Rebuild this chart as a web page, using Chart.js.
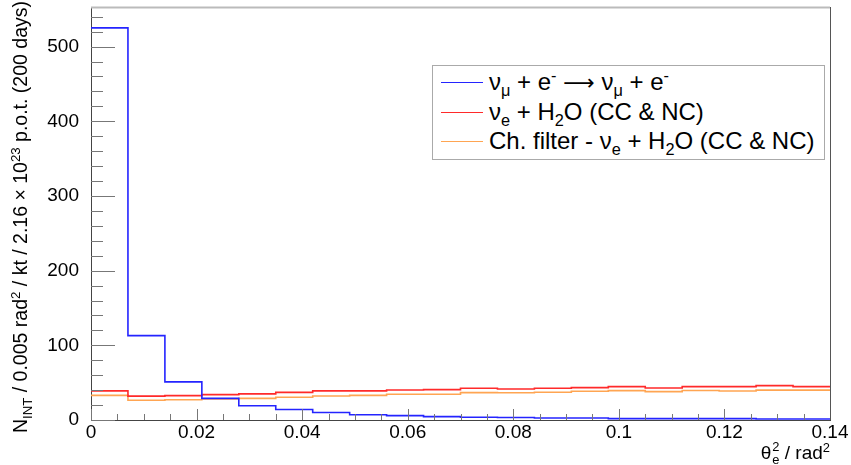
<!DOCTYPE html>
<html>
<head>
<meta charset="utf-8">
<script src="https://cdn.jsdelivr.net/npm/chart.js@4/dist/chart.umd.min.js"></script>
<style>
  html, body { margin:0; padding:0; background:#fff; }
  #wrap { position:relative; width:851px; height:465px; font-family:"Liberation Sans", Arial, sans-serif; color:#000; }
  canvas { position:absolute; left:0; top:0; }
  .ov { position:absolute; white-space:nowrap; }
  sub, sup { font-size:68%; line-height:0; }
  #ytitle { left:0; top:0; width:434px; height:26px; line-height:26px; text-align:right; font-size:19.5px;
            transform-origin:0 0; transform:translate(7px,435px) rotate(-90deg); }
  #legend { left:432px; top:65px; width:391px; height:93px; border:1px solid #aaa; background:#fff; }
  .row { position:absolute; left:0; height:30px; width:100%; }
  .sample { position:absolute; left:8px; width:42px; top:15px; height:0; border-top:1.5px solid; }
  .ltxt { position:absolute; left:56px; top:1px; font-size:24px; line-height:28px; }
  .arr { font-family:"DejaVu Sans", sans-serif; font-size:22px; line-height:0; }
  #xtitle { right:21px; top:441px; font-size:19px; line-height:24px; }
  .stack { display:inline-flex; flex-direction:column; vertical-align:middle; font-size:68%; line-height:1; margin-left:1px; }
</style>
</head>
<body>
<div id="wrap">
  <canvas id="c" width="851" height="465"></canvas>
  <div id="ytitle" class="ov">N<sub>INT</sub> / 0.005 rad<sup>2</sup> / kt / 2.16 × 10<sup>23</sup> p.o.t. (200 days)</div>
  <div id="legend" class="ov"></div>
  <div id="xtitle" class="ov">θ<span class="stack"><span>2</span><span>e</span></span> / rad<sup>2</sup></div>
</div>
<script>
// ---- data ----
const binLow = [0, 0.007, 0.014, 0.021, 0.028, 0.035, 0.042, 0.049, 0.056, 0.063,
                0.07, 0.077, 0.084, 0.091, 0.098, 0.105, 0.112, 0.119, 0.126, 0.133];
const xMax = 0.14;
const numuE   = [525, 113, 51, 29, 19, 14, 10, 7, 5.8, 4.5, 3.6, 3.3, 2.7, 2.7, 1.8, 1.8, 1.8, 1.8, 1.3, 1.3];
const nueH2O  = [39, 32, 32.6, 34, 35, 37, 39, 39, 40.2, 40.7, 42.5, 41.6, 42.5, 43.4, 44.7, 42.9, 44.7, 44.7, 46, 44.7];
const chFilter= [33, 26.4, 27.2, 28.2, 29, 30.4, 32.2, 33, 34.4, 34.4, 36.6, 36.4, 37.1, 38.4, 39.3, 38, 39.5, 38.9, 40, 40];
const seriesNames = [
  'ν<sub>μ</sub> + e<sup>-</sup> <span class="arr">⟶</span> ν<sub>μ</sub> + e<sup>-</sup>',
  'ν<sub>e</sub> + H<sub>2</sub>O (CC &amp; NC)',
  'Ch. filter - ν<sub>e</sub> + H<sub>2</sub>O (CC &amp; NC)'
];
const seriesColors = ['#2424ff', '#ff2a2a', '#ffa552'];
const xTickStep = 0.02, xMinorStep = 0.005;
const yMax = 553, yTickStep = 100, yMinorStep = 20;

function histPoints(vals) {
  const pts = binLow.map((x, i) => ({ x: x, y: vals[i] }));
  pts.push({ x: xMax, y: vals[vals.length - 1] });
  return pts;
}

const seriesVals = [numuE, nueH2O, chFilter];
const datasets = seriesVals.map((v, i) => ({
  label: seriesNames[i].replace(/<[^>]+>/g, ''),
  data: histPoints(v),
  borderColor: seriesColors[i],
  borderWidth: 1.6,
  pointRadius: 0,
  stepped: 'before',
  fill: false,
  tension: 0,
  order: i
}));

// legend (HTML, rich text)
const leg = document.getElementById('legend');
const rowTops = [1, 31, 60];
seriesNames.forEach((n, i) => {
  const r = document.createElement('div');
  r.className = 'row';
  r.style.top = rowTops[i] + 'px';
  r.innerHTML = '<div class="sample" style="border-color:' + seriesColors[i] + '"></div><div class="ltxt">' + n + '</div>';
  leg.appendChild(r);
});

const tickPlugin = {
  id: 'rootTicks',
  afterDraw(chart) {
    const ctx = chart.ctx, a = chart.chartArea;
    const xs = chart.scales.x, ys = chart.scales.y;
    ctx.save();
    ctx.lineWidth = 1;
    ctx.strokeStyle = '#777';
    for (let k = 0; k * xMinorStep <= xMax + 1e-9; k++) {
      const v = k * xMinorStep;
      const px = Math.round(xs.getPixelForValue(v)) + 0.5;
      const major = (k % 4 === 0);
      ctx.beginPath();
      ctx.moveTo(px, a.bottom);
      ctx.lineTo(px, a.bottom - (major ? 11 : 6));
      ctx.stroke();
    }
    for (let k = 0; k * yMinorStep <= yMax; k++) {
      const v = k * yMinorStep;
      const py = Math.round(ys.getPixelForValue(v)) + 0.5;
      const major = (k % 5 === 0);
      ctx.beginPath();
      ctx.moveTo(a.left, py);
      ctx.lineTo(a.left + (major ? 24 : 12), py);
      ctx.stroke();
    }
    ctx.strokeStyle = '#bbb';
    ctx.lineWidth = 2;
    ctx.beginPath();
    ctx.moveTo(a.left, a.top + 0.5);
    ctx.lineTo(a.right, a.top + 0.5);
    ctx.stroke();
    ctx.strokeStyle = '#555';
    ctx.lineWidth = 1;
    ctx.beginPath();
    ctx.moveTo(Math.round(a.right) + 0.5, a.top);
    ctx.lineTo(Math.round(a.right) + 0.5, a.bottom);
    ctx.stroke();
    ctx.restore();
  }
};

new Chart(document.getElementById('c'), {
  type: 'line',
  data: { datasets: datasets },
  options: {
    responsive: false,
    animation: false,
    events: [],
    layout: { padding: { top: 7, right: 21, left: 0, bottom: 0 } },
    plugins: { legend: { display: false }, tooltip: { enabled: false }, title: { display: false } },
    scales: {
      x: {
        type: 'linear', min: 0, max: xMax,
        grid: { display: false, drawTicks: false },
        border: { display: true, color: '#444', width: 1 },
        ticks: {
          stepSize: xTickStep, padding: 1, maxRotation: 0, autoSkip: false, includeBounds: false,
          color: '#000', font: { family: 'Liberation Sans', size: 19 },
          callback: (v) => String(Number(v.toFixed(3)))
        },
        afterFit: (s) => { s.height = 45; s.paddingLeft = 0; s.paddingRight = 0; }
      },
      y: {
        type: 'linear', min: 0, max: yMax,
        grid: { display: false, drawTicks: false },
        border: { display: true, color: '#444', width: 1 },
        ticks: {
          stepSize: yTickStep, padding: 12, includeBounds: false,
          color: '#000', font: { family: 'Liberation Sans', size: 19 }
        },
        afterFit: (s) => { s.width = 91; s.paddingTop = 0; s.paddingBottom = 0; }
      }
    }
  },
  plugins: [tickPlugin]
});
</script>
</body>
</html>
